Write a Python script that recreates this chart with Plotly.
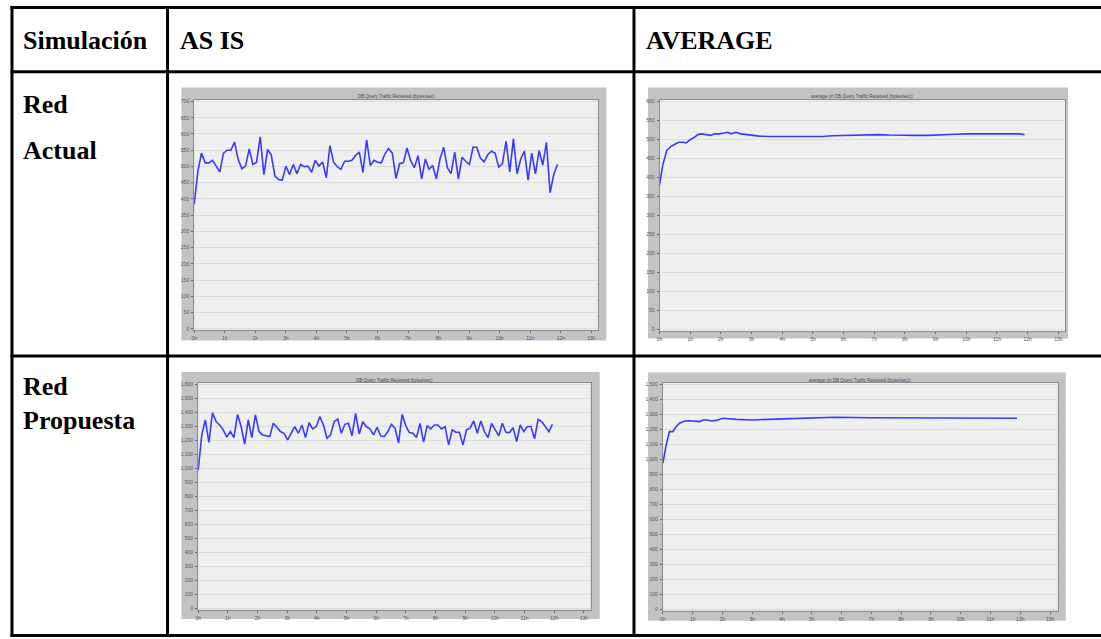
import numpy as np
import plotly.graph_objects as go

W, H = 1101, 639

# ---- table text ----
col_headers = ["Simulación", "AS IS", "AVERAGE"]
row_labels = [["Red", "Actual"], ["Red", "Propuesta"]]

chart_titles = [
    "DB Query Traffic Received (bytes/sec)",
    "average (in DB Query Traffic Received (bytes/sec))",
]

hour_ticks = list(range(14))
hour_labels = [f"{h}h" for h in hour_ticks]

# ---- Red Actual: DB query traffic received (bytes/sec), sampled over ~11.9 h ----
actual_end_h = 11.89
actual_asis = [
    383, 485, 541, 511, 511, 519, 501, 483, 541, 550,
    550, 575, 521, 493, 501, 554, 506, 513, 591, 475,
    552, 536, 470, 460, 458, 501, 475, 506, 478, 506,
    499, 501, 482, 519, 501, 514, 465, 564, 513, 499,
    491, 516, 516, 519, 534, 544, 482, 582, 503, 519,
    513, 511, 539, 555, 541, 463, 509, 511, 557, 518,
    496, 533, 462, 523, 491, 503, 462, 524, 559, 496,
    478, 544, 462, 528, 516, 506, 559, 559, 526, 514,
    536, 547, 541, 498, 508, 577, 483, 585, 477, 523,
    547, 458, 541, 477, 549, 504, 574, 419, 475, 506,
]

# running average of the same statistic
actual_avg_h = [
    0.00, 0.11, 0.24, 0.38, 0.49, 0.62, 0.76, 0.87, 1.00, 1.14,
    1.25, 1.35, 1.52, 1.68, 1.79, 1.95, 2.11, 2.22, 2.33, 2.49,
    2.65, 2.82, 2.98, 3.25, 3.58, 3.90, 4.33, 4.55, 4.98, 5.31,
    5.63, 6.07, 6.45, 6.83, 7.15, 7.48, 7.91, 8.34, 8.78, 9.21,
    9.64, 10.08, 10.51, 10.94, 11.38, 11.70, 11.90,
]
actual_avg = [
    380, 434, 472, 482, 487, 493, 493, 491, 500, 506,
    513, 515, 513, 511, 515, 515, 517, 519, 515, 519,
    515, 513, 511, 509, 508, 508, 507, 508, 508, 508,
    510, 511, 513, 512, 513, 512, 511, 511, 511, 513,
    514, 515, 515, 515, 515, 515, 513,
]

# ---- Red Propuesta ----
prop_end_h = 11.94
prop_asis = [
    983, 1239, 1346, 1185, 1398, 1334, 1310, 1275, 1223, 1263,
    1220, 1386, 1299, 1173, 1346, 1220, 1382, 1263, 1239, 1234,
    1227, 1322, 1294, 1263, 1251, 1204, 1251, 1299, 1251, 1310,
    1220, 1327, 1282, 1299, 1370, 1310, 1215, 1239, 1334, 1353,
    1251, 1315, 1322, 1232, 1393, 1246, 1334, 1299, 1282, 1239,
    1294, 1232, 1227, 1263, 1315, 1287, 1180, 1386, 1306, 1256,
    1251, 1220, 1322, 1187, 1306, 1282, 1310, 1310, 1282, 1299,
    1168, 1275, 1258, 1258, 1168, 1275, 1287, 1339, 1251, 1339,
    1263, 1220, 1322, 1275, 1232, 1322, 1258, 1256, 1291, 1192,
    1310, 1263, 1299, 1299, 1211, 1351, 1334, 1299, 1263, 1315,
]

prop_avg_h = [
    0.00, 0.11, 0.22, 0.33, 0.45, 0.56, 0.73, 0.89, 1.23, 1.34,
    1.51, 1.62, 1.79, 2.01, 2.46, 3.01, 4.02, 4.69, 5.80, 6.92,
    8.04, 9.15, 10.27, 11.89,
]
prop_avg = [
    975, 1097, 1185, 1185, 1219, 1241, 1256, 1258, 1252, 1263,
    1263, 1256, 1260, 1274, 1267, 1263, 1270, 1274, 1281, 1278,
    1278, 1274, 1276, 1274,
]


def sample_times(end_h, n):
    # statistic is collected on a regular interval
    return list(np.linspace(0, end_h, n))


def px_x(p):
    return p / W


def px_y(p):
    return 1 - p / H


# panel geometry in pixels: gray frame, plot area, axis ranges
panels = [
    dict(frame=(179, 86, 605, 340), plot=(191.7, 98.3, 596.7, 330.0),
         xr=(0, 13.22), yr=(-5.2, 705.2), dtick=50, title=chart_titles[0],
         x=sample_times(actual_end_h, len(actual_asis)), y=actual_asis, title_y=94.5),
    dict(frame=(646.7, 86, 1068, 338), plot=(658.3, 98.3, 1065.0, 330.7),
         xr=(0, 13.22), yr=(-3.7, 604.4), dtick=50, title=chart_titles[1],
         x=actual_avg_h, y=actual_avg, title_y=94.5),
    dict(frame=(179, 371.7, 598.3, 620), plot=(195.7, 382.3, 589.3, 610.7),
         xr=(0, 13.23), yr=(-12, 1614), dtick=100, title=chart_titles[0],
         x=sample_times(prop_end_h, len(prop_asis)), y=prop_asis, title_y=380),
    dict(frame=(646.7, 372.3, 1065.7, 621.7), plot=(661.7, 382.3, 1057.7, 611.7),
         xr=(0, 13.26), yr=(-11, 1513), dtick=100, title=chart_titles[1],
         x=prop_avg_h, y=prop_avg, title_y=380),
]

fig = go.Figure()
shapes = []
annotations = []
layout_axes = {}

tick_font = dict(family="Liberation Sans, Arial, sans-serif", size=5, color="#555555")

for i, p in enumerate(panels, start=1):
    fx0, fy0, fx1, fy1 = p["frame"]
    ax0, ay0, ax1, ay1 = p["plot"]
    # gray chart window, then the light plotting surface on top of it
    shapes.append(dict(type="rect", xref="paper", yref="paper",
                       x0=px_x(fx0), x1=px_x(fx1), y0=px_y(fy1), y1=px_y(fy0),
                       fillcolor="#c3c3c3", line=dict(width=0), layer="below"))
    shapes.append(dict(type="rect", xref="paper", yref="paper",
                       x0=px_x(ax0), x1=px_x(ax1), y0=px_y(ay1), y1=px_y(ay0),
                       fillcolor="#efefef", line=dict(width=0), layer="below"))
    xa = "xaxis" if i == 1 else f"xaxis{i}"
    ya = "yaxis" if i == 1 else f"yaxis{i}"
    xref = "x" if i == 1 else f"x{i}"
    yref = "y" if i == 1 else f"y{i}"
    layout_axes[xa] = dict(
        domain=[px_x(ax0), px_x(ax1)], range=list(p["xr"]), anchor=yref,
        tickmode="array", tickvals=hour_ticks, ticktext=hour_labels,
        ticks="outside", ticklen=2, tickcolor="#666666", tickfont=tick_font,
        showgrid=False, zeroline=False, showline=True, linecolor="#8a8a8a",
        linewidth=1, mirror=True, fixedrange=True, ticklabelstandoff=1,
    )
    layout_axes[ya] = dict(
        domain=[px_y(ay1), px_y(ay0)], range=list(p["yr"]), anchor=xref,
        tickmode="linear", tick0=0, dtick=p["dtick"], tickformat=",d",
        ticks="outside", ticklen=2, tickcolor="#666666", tickfont=tick_font,
        showgrid=True, gridcolor="#dddddd", gridwidth=1,
        zeroline=False, showline=True, linecolor="#8a8a8a", linewidth=1,
        mirror=True, fixedrange=True, ticklabelstandoff=1,
    )
    fig.add_trace(go.Scatter(
        x=p["x"], y=p["y"], mode="lines", xaxis=xref, yaxis=yref,
        line=dict(color="rgb(58,58,255)", width=1.6), showlegend=False,
        hoverinfo="skip",
    ))
    annotations.append(dict(
        text=p["title"], xref="paper", yref="paper",
        x=px_x((ax0 + ax1) / 2), y=px_y(p["title_y"]),
        xanchor="center", yanchor="middle", showarrow=False,
        font=dict(family="Liberation Sans, Arial, sans-serif", size=4.5, color="#444444"),
    ))

# ---- table grid ----
LW = 3
top, head_bot, row_sep, bottom = 5.5, 70.0, 355.7, 636.5
left, col1, col2, right = 9.0, 165.0, 632.7, 1103.0
for yy in (top, head_bot, row_sep, bottom):
    shapes.append(dict(type="line", xref="paper", yref="paper",
                       x0=px_x(left - 1.5), x1=px_x(right), y0=px_y(yy), y1=px_y(yy),
                       line=dict(color="black", width=LW)))
for xx in (left, col1, col2):
    shapes.append(dict(type="line", xref="paper", yref="paper",
                       x0=px_x(xx), x1=px_x(xx), y0=px_y(top - 1.5), y1=px_y(bottom + 1.5),
                       line=dict(color="black", width=LW)))

serif = dict(family="Liberation Serif, Times New Roman, serif", size=26, color="black")


def cell_text(txt, x, y_center):
    annotations.append(dict(
        text=f"<b>{txt}</b>", xref="paper", yref="paper",
        x=px_x(x), y=px_y(y_center), xanchor="left", yanchor="middle",
        showarrow=False, font=serif, borderpad=0,
    ))


cell_text(col_headers[0], 19, 39)
cell_text(col_headers[1], 176, 39)
cell_text(col_headers[2], 644, 39)
cell_text(row_labels[0][0], 19, 103)
cell_text(row_labels[0][1], 19, 149)
cell_text(row_labels[1][0], 19, 386)
cell_text(row_labels[1][1], 19, 420)

fig.update_layout(
    width=W, height=H, margin=dict(l=0, r=0, t=0, b=0),
    paper_bgcolor="white", plot_bgcolor="#efefef",
    shapes=shapes, annotations=annotations, showlegend=False,
    **layout_axes,
)

fig.write_html("out.html", config={"displayModeBar": False})
